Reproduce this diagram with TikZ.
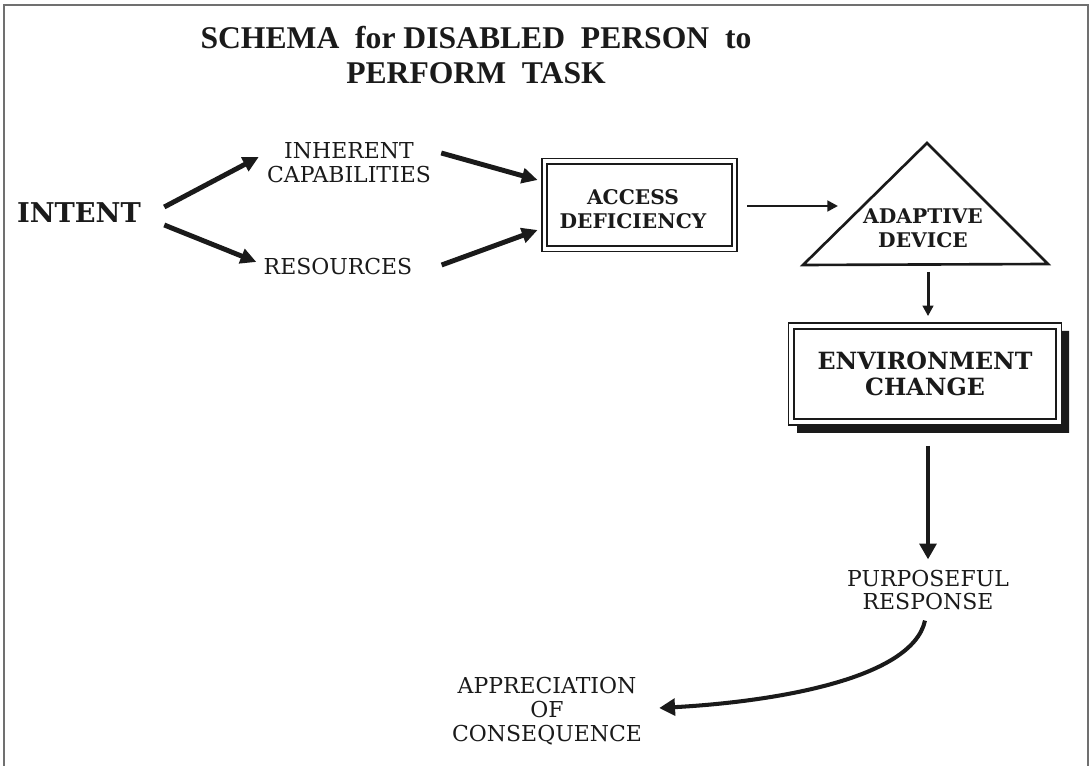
\documentclass[tikz,border=0pt]{standalone}
\usepackage{fontspec}
\setmainfont{DejaVu Serif}
\newfontfamily\titlefont{Liberation Serif}
\usetikzlibrary{arrows.meta}
\definecolor{ink}{HTML}{1A1A1A}
\definecolor{framegray}{HTML}{707070}
\tikzset{
  x=0.02cm, y=-0.02cm,
  lbl/.style={inner sep=0pt, align=center, text=ink, font=\fontsize{12.5}{13.6}\selectfont},
  blbl/.style={inner sep=0pt, align=center, text=ink, font=\bfseries\fontsize{11.5}{13.6}\selectfont},
  dbox/.style={draw=ink, double=white, line width=1pt, double distance=2.2pt, inner sep=0pt},
  bigarr/.style={draw=ink, line width=2.8pt, -{Triangle[length=9pt,width=8.5pt]}},
  smallarr/.style={draw=ink, line width=1.7pt, -{Triangle[length=6pt,width=6pt]}},
  downarr/.style={draw=ink, line width=2.3pt, -{Triangle[length=9pt,width=9.5pt]}},
}
\begin{document}
\begin{tikzpicture}
\useasboundingbox (0,0) rectangle (1092,766);
% frame
\draw[framegray, line width=1.2pt] (4,766) -- (4,5) -- (1088,5) -- (1088,766);
% title
\node[inner sep=0pt, align=center, text=ink, font=\titlefont\bfseries\fontsize{18}{20}\selectfont] (title) at (476,55)
  {SCHEMA\ \ for DISABLED\ \ PERSON\ \ to\\PERFORM\ \ TASK};
% nodes
\node[blbl, font=\bfseries\fontsize{15.5}{18}\selectfont] (intent) at (79,213) {INTENT};
\node[lbl] (inherent) at (349,163) {INHERENT\\CAPABILITIES};
\node[lbl] (resources) at (338,267) {RESOURCES};
\node[dbox, minimum width=3.8cm, minimum height=1.75cm] (access) at (639.5,205) {};
\node[blbl] (accesstxt) at (633,209) {ACCESS\\DEFICIENCY};
% triangle
\coordinate (tA) at (927,143);
\coordinate (tL) at (803,265);
\coordinate (tR) at (1048,264);
\coordinate (tB) at (928,264);
\draw[draw=ink, line width=1.5pt, line join=miter] (tA) -- (tL) -- (tR) -- cycle;
\node[blbl] (adapt) at (923,228) {ADAPTIVE\\DEVICE};
% environment box with shadow
\fill[ink] (1062,331) -- (1069,331) -- (1069,433) -- (797,433) -- (797,425) -- (1062,425) -- cycle;
\node[dbox, fill=white, blbl, font=\bfseries\fontsize{13.5}{15}\selectfont, minimum width=5.35cm, minimum height=1.92cm] (env) at (925,374) {ENVIRONMENT\\CHANGE};
\node[lbl] (purp) at (928,590) {PURPOSEFUL\\RESPONSE};
\node[lbl] (appr) at (547,711) {APPRECIATION\\OF\\CONSEQUENCE};
% connectors
\coordinate (adin) at (838,206);
\draw[bigarr] ([shift={(23,-6)}]intent.east) -- ([shift={(-8,-6)}]inherent.west);
\draw[bigarr] ([shift={(23,12)}]intent.east) -- ([shift={(-7,-5)}]resources.west);
\draw[bigarr] ([shift={(10,-10)}]inherent.east) -- ([shift={(-6,-25)}]access.west);
\draw[bigarr] ([shift={(29,-2)}]resources.east) -- ([shift={(-6,25)}]access.west);
\draw[smallarr] ([shift={(12,1)}]access.east) -- (adin);
\draw[smallarr] ([shift={(0,8)}]tB) -- ([shift={(3,-9)}]env.north);
\draw[downarr] ([shift={(3,23)}]env.south) -- ([shift={(0,-10)}]purp.north);
\draw[draw=ink, line width=2.3pt, -{Triangle[length=9pt,width=9.5pt]}]
  ([shift={(-3,10)}]purp.south) .. controls (912,680) and (770,702) .. ([shift={(17,-3)}]appr.east);
\end{tikzpicture}
\end{document}
